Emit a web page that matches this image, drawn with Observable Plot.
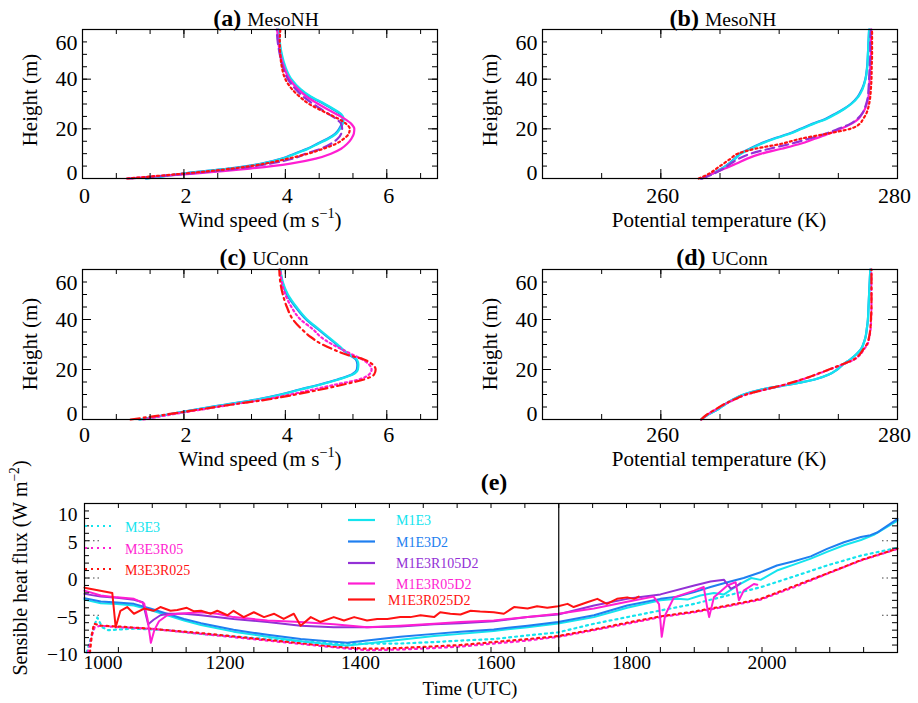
<!DOCTYPE html>
<html><head><meta charset="utf-8">
<script src="https://cdn.jsdelivr.net/npm/d3@7"></script>
<script src="https://cdn.jsdelivr.net/npm/@observablehq/plot@0.6"></script>
<style>
html,body{margin:0;padding:0;background:#fff;}
#wrap{position:relative;width:918px;height:703px;overflow:hidden;background:#fff;}
#wrap svg{position:absolute;}
</style></head><body><div id="wrap"></div>
<script>
// ---------------- data ----------------
const heights = [0,2,4,6,8,10,12,14,16,18,20,22,24,26,28,30,33,36,40,45,50,55,60];

// (a) MesoNH wind speed (m/s)
const a_M1E3      = [1.27,2.0,2.9,3.55,3.95,4.2,4.45,4.65,4.85,5.0,5.08,5.13,5.15,5.1,4.95,4.78,4.5,4.3,4.12,4.0,3.93,3.89,3.87];
const a_M1E3D2    = [1.25,1.98,2.88,3.53,3.93,4.18,4.43,4.63,4.83,4.98,5.06,5.11,5.13,5.08,4.93,4.76,4.48,4.28,4.1,3.98,3.92,3.88,3.86];
const a_M1E3R105D2= [0.95,2.1,3.05,3.7,4.15,4.4,4.7,4.9,5.03,5.1,5.12,5.1,5.0,4.85,4.7,4.55,4.35,4.2,4.05,3.95,3.89,3.85,3.83];
const a_M1E3R05D2 = [0.88,2.2,3.3,4.1,4.6,4.9,5.1,5.22,5.3,5.35,5.36,5.3,5.17,5.0,4.82,4.65,4.42,4.25,4.08,3.97,3.9,3.86,3.84];
const a_M1E3R025D2= [0.88,2.0,2.95,3.6,4.05,4.45,4.75,5.0,5.15,5.25,5.27,5.2,5.05,4.85,4.65,4.47,4.28,4.13,4.0,3.93,3.9,3.89,3.9];

// (b) MesoNH potential temperature (K)
const b_M1E3      = [263.4,264.4,265.2,265.8,266.3,266.8,267.6,268.5,269.6,270.9,271.9,272.9,274.0,274.8,275.5,276.1,276.7,277.05,277.3,277.45,277.5,277.55,277.6];
const b_M1E3D2    = [263.4,264.35,265.15,265.75,266.25,266.7,267.5,268.4,269.5,270.8,271.8,272.8,273.9,274.7,275.45,276.05,276.65,277.0,277.28,277.43,277.5,277.55,277.6];
const b_M1E3R105D2= [263.5,264.5,265.3,265.9,266.6,267.6,269.2,271.0,272.5,273.9,275.0,276.0,276.6,277.0,277.2,277.35,277.5,277.55,277.6,277.65,277.7,277.7,277.75];
const b_M1E3R05D2 = [263.4,264.4,265.4,266.4,267.3,268.5,270.2,271.8,273.0,274.2,275.2,276.1,276.7,277.0,277.25,277.4,277.55,277.6,277.65,277.7,277.75,277.75,277.8];
const b_M1E3R025D2= [263.2,264.1,264.7,265.3,265.9,266.5,268.0,270.2,271.8,274.0,276.0,276.8,277.1,277.35,277.5,277.6,277.7,277.75,277.8,277.82,277.85,277.85,277.85];

// (c) UConn wind speed (m/s)
const c_M3E3      = [1.14,1.7,2.25,2.85,3.45,3.92,4.3,4.7,5.05,5.33,5.43,5.44,5.41,5.27,5.14,5.03,4.85,4.67,4.43,4.22,4.05,3.95,3.9];
const c_M3E3b     = [1.12,1.68,2.23,2.83,3.43,3.9,4.28,4.68,5.03,5.31,5.41,5.42,5.39,5.25,5.12,5.01,4.83,4.65,4.41,4.2,4.03,3.94,3.9];
const c_M3E3R05   = [1.2,1.75,2.35,2.95,3.6,4.1,4.55,5.0,5.45,5.65,5.7,5.65,5.52,5.32,5.12,4.93,4.7,4.55,4.3,4.12,4.0,3.93,3.9];
const c_M3E3R025  = [0.95,1.65,2.3,2.95,3.65,4.2,4.7,5.15,5.55,5.75,5.78,5.72,5.55,5.2,4.95,4.73,4.5,4.33,4.15,4.03,3.95,3.9,3.88];

// (d) UConn potential temperature (K)
const d_M3E3      = [263.4,264.0,264.8,265.4,266.1,267.0,268.5,270.9,273.0,274.2,274.9,275.4,276.0,276.5,276.9,277.1,277.3,277.4,277.5,277.55,277.6,277.65,277.7];
const d_M3E3R05   = [263.45,263.95,264.65,265.35,266.25,267.25,268.85,270.55,271.95,273.15,274.25,275.35,276.35,276.85,277.15,277.45,277.62,277.72,277.77,277.8,277.8,277.8,277.8];
const d_M3E3R025  = [263.4,263.9,264.6,265.3,266.2,267.2,268.8,270.5,271.9,273.1,274.2,275.3,276.3,276.8,277.1,277.4,277.6,277.7,277.75,277.8,277.8,277.8,277.8];

// (e) sensible heat flux time series [time (UTC), W m-2]
const e_M1E3 = [[1000,-2.9],[1024,-3.4],[1048,-3.5],[1073,-3.7],[1097,-4.3],[1122,-5.0],[1147,-5.7],[1172,-6.3],[1220,-7.2],[1270,-7.9],[1319,-8.5],[1368,-8.95],[1388,-9.05],[1417,-8.8],[1466,-8.3],[1516,-7.8],[1555,-7.5],[1604,-7.1],[1654,-6.6],[1699,-6.1],[1752,-5.25],[1801,-4.0],[1850,-3.0],[1875,-2.8],[1890,-2.9],[1909,-2.35],[1929,-2.0],[1944,-2.2],[1964,-1.0],[1984,0.0],[1998,-0.25],[2022,1.0],[2047,1.8],[2072,2.6],[2096,3.5],[2121,4.4],[2146,5.1],[2165,5.8],[2200,7.7]];
const e_M1E3D2 = [[1000,-2.7],[1024,-3.15],[1048,-3.3],[1073,-3.47],[1097,-4.1],[1122,-4.8],[1147,-5.5],[1172,-6.06],[1220,-6.96],[1270,-7.63],[1319,-8.2],[1368,-8.55],[1388,-8.7],[1417,-8.4],[1466,-7.9],[1516,-7.5],[1555,-7.2],[1604,-6.9],[1654,-6.4],[1699,-5.9],[1752,-5.0],[1801,-3.7],[1850,-2.8],[1875,-2.5],[1900,-1.9],[1924,-1.2],[1949,-0.56],[1973,0.0],[1998,0.78],[2022,1.68],[2047,2.26],[2072,2.9],[2096,3.9],[2121,4.8],[2146,5.5],[2160,5.75],[2170,6.1],[2200,7.94]];
const e_M1E3R105D2 = [[1000,-2.13],[1024,-2.5],[1048,-2.66],[1073,-2.93],[1086,-3.25],[1094,-6.2],[1102,-5.6],[1112,-5.0],[1122,-4.8],[1147,-4.8],[1172,-5.0],[1220,-5.5],[1270,-5.9],[1319,-6.4],[1368,-6.6],[1417,-6.6],[1466,-6.5],[1516,-6.2],[1555,-6.06],[1604,-5.8],[1654,-5.25],[1699,-4.9],[1752,-3.7],[1801,-2.8],[1850,-2.2],[1900,-1.0],[1924,-0.47],[1944,-0.25],[1950,-1.0],[1954,-1.45],[1964,-1.0],[1968,-0.7]];
const e_M1E3R05D2 = [[1000,-1.7],[1024,-2.35],[1048,-2.6],[1073,-2.8],[1088,-3.4],[1093,-5.5],[1098,-8.7],[1103,-7.0],[1110,-5.8],[1122,-5.0],[1137,-4.8],[1172,-4.6],[1196,-4.8],[1220,-5.25],[1270,-5.7],[1319,-5.9],[1368,-6.2],[1417,-6.6],[1466,-6.4],[1516,-6.14],[1555,-5.9],[1604,-5.7],[1654,-5.25],[1699,-4.8],[1752,-4.1],[1801,-3.2],[1840,-2.5],[1848,-3.5],[1852,-7.9],[1857,-5.0],[1870,-2.6],[1900,-1.7],[1914,-1.2],[1919,-3.9],[1922,-5.25],[1929,-2.6],[1949,-1.0],[1961,-0.56],[1966,-3.0],[1973,-1.7],[1988,-0.8],[1993,-0.9]];
const e_M1E3R025D2 = [[1000,-1.3],[1041,-2.0],[1046,-6.6],[1053,-4.4],[1063,-3.9],[1073,-4.8],[1088,-4.1],[1102,-4.4],[1112,-3.9],[1127,-4.4],[1137,-4.3],[1151,-4.0],[1161,-4.45],[1172,-4.4],[1186,-4.8],[1196,-4.4],[1211,-5.0],[1220,-4.4],[1235,-5.25],[1250,-4.6],[1265,-5.25],[1280,-4.8],[1294,-5.5],[1309,-4.8],[1319,-6.4],[1334,-5.25],[1348,-5.9],[1368,-5.25],[1383,-5.7],[1398,-5.25],[1417,-5.7],[1432,-5.5],[1447,-5.5],[1466,-5.25],[1481,-5.25],[1496,-5.0],[1516,-5.25],[1525,-4.6],[1540,-4.8],[1555,-4.9],[1570,-4.4],[1584,-4.5],[1604,-4.6],[1619,-4.8],[1634,-3.9],[1654,-4.1],[1668,-3.8],[1683,-4.0],[1699,-3.8],[1713,-3.47],[1722,-3.9],[1742,-3.25],[1757,-2.8],[1771,-3.47],[1786,-2.8],[1801,-2.6],[1811,-2.8],[1818,-2.5]];
const e_M3E3 = [[1003,-10],[1008,-8.5],[1014,-6.5],[1019,-5.3],[1026,-6.6],[1035,-7.0],[1073,-6.8],[1097,-6.9],[1122,-7.0],[1172,-7.5],[1270,-8.2],[1368,-8.8],[1466,-8.8],[1516,-8.6],[1555,-8.4],[1604,-8.2],[1654,-7.7],[1699,-7.3],[1752,-6.14],[1801,-5.25],[1850,-4.36],[1900,-3.47],[1949,-2.35],[1998,-1.24],[2047,0.2],[2096,1.68],[2146,3.0],[2200,4.05]];
const e_M3E3R05 = [[1005,-10],[1010,-8],[1015,-6.6],[1024,-6.4],[1048,-6.6],[1097,-6.8],[1172,-7.5],[1270,-8.4],[1368,-9.3],[1417,-9.7],[1466,-9.6],[1516,-9.4],[1555,-9.2],[1604,-8.8],[1654,-8.4],[1699,-7.9],[1752,-7.0],[1801,-6.14],[1850,-5.25],[1900,-4.6],[1949,-3.8],[1998,-2.9],[2047,-1.24],[2096,0.56],[2146,2.35],[2200,3.9]];
const e_M3E3R025 = [[1008,-10],[1011,-7.5],[1014,-6.14],[1024,-6.4],[1048,-6.5],[1097,-6.8],[1172,-7.4],[1270,-8.3],[1368,-9.2],[1417,-9.5],[1466,-9.4],[1555,-9.0],[1604,-8.6],[1654,-8.2],[1699,-7.8],[1752,-6.9],[1801,-6.0],[1850,-5.15],[1900,-4.5],[1949,-3.7],[1998,-2.8],[2047,-1.1],[2096,0.6],[2146,2.4],[2200,3.95]];
const e_marker = [1700];

// tick values and labels
const windTicksMinor = [0,0.667,1.333,2,2.667,3.333,4,4.667,5.333,6,6.667];
const windTickLabels = [0,2,4,6];
const thetaTicks = [250,255,260,265,270,275,280];
const thetaTickLabels = [260,280];
const heightTicks = [0,5,10,15,20,25,30,35,40,45,50,55,60];
const heightTickLabels = [0,20,40,60];
const timeTicks = d3.range(1000, 2201, 50);
const timeTickLabels = [1000,1200,1400,1600,1800,2000];
const fluxTicks = d3.range(-10, 11, 1);
const fluxTickLabels = [-10,-5,0,5,10];

// legend labels
const legendDotted = ["M3E3","M3E3R05","M3E3R025"];
const legendSolid = ["M1E3","M1E3D2","M1E3R105D2","M1E3R05D2","M1E3R025D2"];

// ---------------- drawing ----------------
const FONT = "'Liberation Serif','Times New Roman',Times,serif";
const COL = {cyan:"#14e4ee", blue:"#1f7ff0", purple:"#9331d6", magenta:"#ff1ed2", red:"#ff1212"};
const wrap = document.getElementById("wrap");
const fmt = d => String(d).replace("-", "\u2212");

const prof = (vals) => heights.map((h, i) => ({h, v: vals[i]}));
const profLine = (vals, stroke, dash) => Plot.line(prof(vals), {x: "v", y: "h", stroke, strokeWidth: 2.2, strokeDasharray: dash, curve: "monotone-y"});
const tsLine = (data, stroke, dash) => Plot.line(data, {x: d => d[0], y: d => d[1], stroke, strokeWidth: dash ? 2.2 : 2, strokeDasharray: dash});

function panel({left, top, width, height, mL, mR, mT, mB, xDomain, yDomain, xMinor, xMajor, yMinor, yMajor, marks, axes, fontSize}) {
  const fw = width - mL - mR, fh = height - mT - mB;
  const mn = 5, mj = 9;
  const tk = {stroke: "black", strokeWidth: 1};
  const p = Plot.plot({
    width, height, marginLeft: mL, marginRight: mR, marginTop: mT, marginBottom: mB,
    x: {domain: xDomain, label: null}, y: {domain: yDomain, label: null},
    style: {fontFamily: FONT, fontSize: fontSize + "px", color: "black", background: "transparent", overflow: "visible"},
    marks: [
      ...marks,
      Plot.tickX(xMinor, {x: d => d, insetTop: fh - mn, ...tk}),
      Plot.tickX(xMinor, {x: d => d, insetBottom: fh - mn, ...tk}),
      Plot.tickX(xMajor, {x: d => d, insetTop: fh - mj, ...tk}),
      Plot.tickX(xMajor, {x: d => d, insetBottom: fh - mj, ...tk}),
      Plot.tickY(yMinor, {y: d => d, insetRight: fw - mn, ...tk}),
      Plot.tickY(yMinor, {y: d => d, insetLeft: fw - mn, ...tk}),
      Plot.tickY(yMajor, {y: d => d, insetRight: fw - mj, ...tk}),
      Plot.tickY(yMajor, {y: d => d, insetLeft: fw - mj, ...tk}),
      Plot.frame({stroke: "black", strokeWidth: 1.2}),
      ...axes
    ]
  });
  p.style.left = left + "px";
  p.style.top = top + "px";
  wrap.appendChild(p);
}

const yAxesProfile = [
  Plot.axisY([60], {tickSize: 0, tickPadding: 5, dy: 13, label: null, tickFormat: fmt}),
  Plot.axisY([20, 40], {tickSize: 0, tickPadding: 5, label: null, tickFormat: fmt}),
  Plot.axisY([0], {tickSize: 0, tickPadding: 5, dy: -6, label: null, tickFormat: fmt})
];

// (a)
panel({left: 0, top: 0, width: 460, height: 205, mL: 82, mR: 23, mT: 29, mB: 27,
  xDomain: [0, 7], yDomain: [0, 60], xMinor: windTicksMinor, xMajor: windTickLabels,
  yMinor: heightTicks, yMajor: heightTickLabels, fontSize: 22,
  marks: [
    profLine(a_M1E3D2, COL.blue), profLine(a_M1E3, COL.cyan),
    profLine(a_M1E3R05D2, COL.magenta), profLine(a_M1E3R105D2, COL.purple, "9,5"),
    profLine(a_M1E3R025D2, COL.red, "2,3")
  ],
  axes: [Plot.axisX(windTickLabels, {tickSize: 0, tickPadding: 9, dx: 2, label: null, tickFormat: fmt}), ...yAxesProfile]
});
// (b)
panel({left: 460, top: 0, width: 458, height: 205, mL: 82, mR: 21, mT: 29, mB: 27,
  xDomain: [250, 280], yDomain: [0, 60], xMinor: thetaTicks, xMajor: thetaTickLabels,
  yMinor: heightTicks, yMajor: heightTickLabels, fontSize: 22,
  marks: [
    profLine(b_M1E3D2, COL.blue), profLine(b_M1E3, COL.cyan),
    profLine(b_M1E3R05D2, COL.magenta), profLine(b_M1E3R105D2, COL.purple, "9,5"),
    profLine(b_M1E3R025D2, COL.red, "2,3")
  ],
  axes: [Plot.axisX([260], {tickSize: 0, tickPadding: 9, dx: 2, label: null, tickFormat: fmt}),
         Plot.axisX([280], {tickSize: 0, tickPadding: 9, dx: -3, label: null, tickFormat: fmt}), ...yAxesProfile]
});
// (c)
panel({left: 0, top: 240, width: 460, height: 205, mL: 82, mR: 23, mT: 29, mB: 26,
  xDomain: [0, 7], yDomain: [0, 60], xMinor: windTicksMinor, xMajor: windTickLabels,
  yMinor: heightTicks, yMajor: heightTickLabels, fontSize: 22,
  marks: [
    profLine(c_M3E3b, COL.blue), profLine(c_M3E3, COL.cyan),
    profLine(c_M3E3R05, COL.magenta, "2,3"), profLine(c_M3E3R025, COL.red, "9,4,2,4")
  ],
  axes: [Plot.axisX(windTickLabels, {tickSize: 0, tickPadding: 7, dx: 2, label: null, tickFormat: fmt}), ...yAxesProfile]
});
// (d)
panel({left: 460, top: 240, width: 458, height: 205, mL: 82, mR: 21, mT: 29, mB: 26,
  xDomain: [250, 280], yDomain: [0, 60], xMinor: thetaTicks, xMajor: thetaTickLabels,
  yMinor: heightTicks, yMajor: heightTickLabels, fontSize: 22,
  marks: [
    profLine(d_M3E3, COL.blue), profLine(d_M3E3, COL.cyan),
    profLine(d_M3E3R05, COL.magenta, "2,3"), profLine(d_M3E3R025, COL.red, "9,4,2,4")
  ],
  axes: [Plot.axisX([260], {tickSize: 0, tickPadding: 7, dx: 2, label: null, tickFormat: fmt}),
         Plot.axisX([280], {tickSize: 0, tickPadding: 7, dx: -3, label: null, tickFormat: fmt}), ...yAxesProfile]
});
// (e)
panel({left: 0, top: 470, width: 918, height: 233, mL: 84, mR: 21, mT: 33, mB: 51,
  xDomain: [1000, 2200], yDomain: [-10, 10], xMinor: timeTicks, xMajor: [],
  yMinor: fluxTicks, yMajor: [10, -10], fontSize: 19.5,
  marks: [
    tsLine(e_M3E3, COL.cyan, "2,4"), tsLine(e_M3E3R05, COL.magenta, "2,4"), tsLine(e_M3E3R025, COL.red, "2,4"),
    tsLine(e_M1E3, COL.cyan), tsLine(e_M1E3D2, COL.blue),
    tsLine(e_M1E3R105D2, COL.purple), tsLine(e_M1E3R05D2, COL.magenta), tsLine(e_M1E3R025D2, COL.red),
    Plot.ruleX(e_marker, {stroke: "black", strokeWidth: 1.2}),
    Plot.tickY([5, 0, -5], {y: d => d, insetRight: 813 - 15, stroke: "#444", strokeDasharray: "1.5,3"}),
    Plot.tickY([5, 0, -5], {y: d => d, insetLeft: 813 - 15, stroke: "#444", strokeDasharray: "1.5,3"})
  ],
  axes: [
    Plot.axisX([1000], {tickSize: 0, tickPadding: 3, dx: 18.5, label: null, tickFormat: fmt}),
    Plot.axisX(timeTickLabels.slice(1), {tickSize: 0, tickPadding: 3, dx: 5, label: null, tickFormat: fmt}),
    Plot.axisY([10], {tickSize: 0, tickPadding: 7, dy: 11, label: null, tickFormat: fmt}),
    Plot.axisY([5, 0, -5], {tickSize: 0, tickPadding: 7, dy: 2, label: null, tickFormat: fmt}),
    Plot.axisY([-10], {tickSize: 0, tickPadding: 7, dy: 2, label: null, tickFormat: fmt})
  ]
});

// ---------------- annotation overlay ----------------
const ov = d3.select(wrap).append("svg")
  .attr("width", 918).attr("height", 703)
  .style("left", "0px").style("top", "0px")
  .attr("font-family", FONT).attr("fill", "black");

function title(x, y, tag, name) {
  const t = ov.append("text").attr("x", x).attr("y", y).attr("text-anchor", "middle");
  t.append("tspan").attr("font-weight", "bold").attr("font-size", 24).text(tag);
  if (name) t.append("tspan").attr("font-size", 19.5).attr("dx", 6).text(name);
}
function axTitle(x, y, main, sup, size, rot) {
  const t = ov.append("text").attr("text-anchor", "middle").attr("font-size", size)
    .attr("transform", rot ? `translate(${x},${y}) rotate(-90)` : `translate(${x},${y})`);
  t.append("tspan").text(main);
  if (sup) {
    t.append("tspan").attr("dy", -0.42 * size).attr("font-size", size * 0.68).text(sup);
    t.append("tspan").attr("dy", 0.42 * size).text(")");
  }
}
title(266, 26, "(a)", "MesoNH");
title(723, 26, "(b)", "MesoNH");
title(264, 265, "(c)", "UConn");
title(722, 265, "(d)", "UConn");
title(494, 490, "(e)", null);

axTitle(260, 227, "Wind speed (m s", "\u22121", 21, false);
axTitle(260, 466, "Wind speed (m s", "\u22121", 21, false);
axTitle(719, 227, "Potential temperature (K)", null, 21, false);
axTitle(719, 466, "Potential temperature (K)", null, 21, false);
axTitle(37, 100, "Height (m)", null, 21, true);
axTitle(497, 100, "Height (m)", null, 21, true);
axTitle(37, 344, "Height (m)", null, 21, true);
axTitle(497, 344, "Height (m)", null, 21, true);
axTitle(470, 695, "Time (UTC)", null, 19, false);
axTitle(27, 568, "Sensible heat flux (W m", "\u22122", 20, true);

// legend (e)
const dotCols = [COL.cyan, COL.magenta, COL.red];
const dotY = [526, 548, 569];
legendDotted.forEach((name, i) => {
  ov.append("line").attr("x1", 85).attr("x2", 111).attr("y1", dotY[i]).attr("y2", dotY[i])
    .attr("stroke", dotCols[i]).attr("stroke-width", 2.2).attr("stroke-dasharray", "2,4");
  ov.append("text").attr("x", 125).attr("y", dotY[i] + 5.5).attr("font-size", 14)
    .attr("fill", dotCols[i]).text(name);
});
const solCols = [COL.cyan, COL.blue, COL.purple, COL.magenta, COL.red];
const solY = [520, 541.5, 563, 583.5, 599.5];
const solX = [396, 396, 396, 396, 388];
legendSolid.forEach((name, i) => {
  ov.append("line").attr("x1", 348).attr("x2", 375).attr("y1", solY[i]).attr("y2", solY[i])
    .attr("stroke", solCols[i]).attr("stroke-width", 2.2);
  ov.append("text").attr("x", solX[i]).attr("y", solY[i] + 5).attr("font-size", 14)
    .attr("fill", solCols[i]).text(name);
});
</script></body></html>
